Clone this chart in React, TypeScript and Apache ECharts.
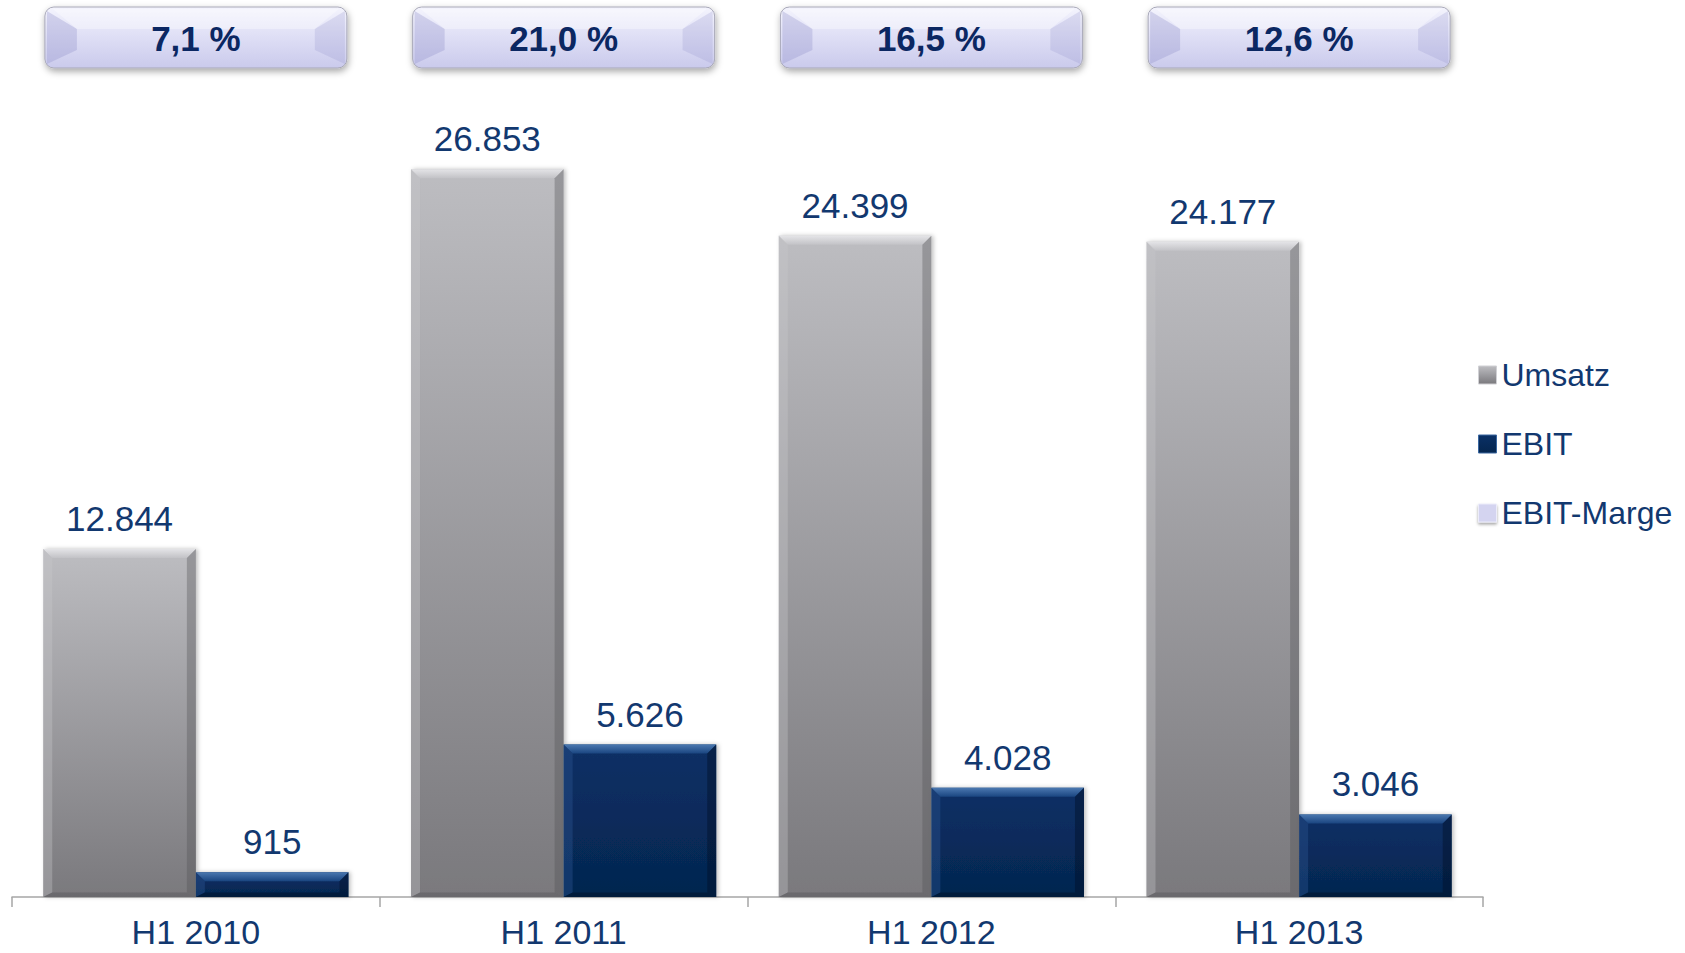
import React, { useEffect, useRef } from "react";
import * as echarts from "echarts";

const categories = ["H1 2010", "H1 2011", "H1 2012", "H1 2013"];
const umsatz = [12844, 26853, 24399, 24177];
const ebit = [915, 5626, 4028, 3046];
const marge = [7.1, 21.0, 16.5, 12.6];
const seriesNames = ["Umsatz", "EBIT", "EBIT-Marge"];

const FONT = "'Liberation Sans', Arial, sans-serif";
const LABEL_COLOR = "#12386f";
const BOX_TEXT = "#0b2762";
const CAT_GAP = 0.17;

const fmtDE = (v: number) => String(v).replace(/\B(?=(\d{3})+(?!\d))/g, ".");
const fmtPct = (v: number) => v.toFixed(1).replace(".", ",") + " %";

const grayGrad = () =>
  new echarts.graphic.LinearGradient(0, 0, 0, 1, [
    { offset: 0, color: "#bdbdc1" },
    { offset: 1, color: "#7a797d" },
  ]);
const navyGrad = () =>
  new echarts.graphic.LinearGradient(0, 0, 0, 1, [
    { offset: 0, color: "#0a3066" },
    { offset: 1, color: "#05264f" },
  ]);

export default function App() {
  const ref = useRef<HTMLDivElement>(null);

  useEffect(() => {
    document.body.style.margin = "0";
    if (!ref.current) return;
    const chart = echarts.init(ref.current, undefined, { renderer: "svg" });

    const bevelData: number[][] = [];
    umsatz.forEach((v, i) => bevelData.push([i, v, 0]));
    ebit.forEach((v, i) => bevelData.push([i, v, 1]));

    const bevelRender = (params: any, api: any) => {
      const idx = api.value(0);
      const val = api.value(1);
      const s = api.value(2);
      const top = api.coord([idx, val]);
      const base = api.coord([idx, 0]);
      const catW = api.size([1, 0])[0];
      const barW = (catW * (1 - CAT_GAP)) / 2;
      const x0 = s === 0 ? top[0] - barW : top[0];
      const x1 = x0 + barW;
      const y0 = top[1];
      const y1 = base[1];
      const h = y1 - y0;
      const b = Math.min(9, h / 2);
      const c =
        s === 0
          ? { top: "#e4e4e7", left: "rgba(200,200,204,0.35)", right: "rgba(80,80,84,0.35)", bottom: "rgba(90,90,94,0.5)" }
          : { top: "#4b78b0", left: "rgba(40,80,140,0.45)", right: "rgba(0,15,40,0.45)", bottom: "rgba(0,15,40,0.5)" };
      return {
        type: "group",
        children: [
          {
            type: "polygon",
            shape: { points: [[x0, y0], [x1, y0], [x1 - b, y0 + b], [x0 + b, y0 + b]] },
            style: {
              fill: new echarts.graphic.LinearGradient(0, 0, 0, 1, [
                { offset: 0, color: c.top },
                { offset: 1, color: s === 0 ? "#c2c2c6" : "#1a4580" },
              ]),
            },
          },
          {
            type: "polygon",
            shape: { points: [[x0, y0], [x0 + b, y0 + b], [x0 + b, y1 - b / 2], [x0, y1]] },
            style: { fill: c.left },
          },
          {
            type: "polygon",
            shape: { points: [[x1, y0], [x1 - b, y0 + b], [x1 - b, y1 - b / 2], [x1, y1]] },
            style: { fill: c.right },
          },
          {
            type: "polygon",
            shape: { points: [[x0, y1], [x0 + b, y1 - b / 2], [x1 - b, y1 - b / 2], [x1, y1]] },
            style: { fill: c.bottom },
          },
        ],
      };
    };

    const boxRender = (params: any, api: any) => {
      const idx = api.value(0);
      const val = api.value(1);
      const cx = api.coord([idx, 0])[0];
      const w = 302;
      const h = 61;
      const x = cx - w / 2;
      const y = params.coordSys.y - 77;
      const f = 32;
      return {
        type: "group",
        children: [
          {
            type: "rect",
            shape: { x, y, width: w, height: h, r: 9 },
            style: {
              fill: new echarts.graphic.LinearGradient(0, 0, 0, 1, [
                { offset: 0, color: "#f4f4fd" },
                { offset: 0.5, color: "#dedef5" },
                { offset: 1, color: "#cacaec" },
              ]),
              stroke: "#a8a8b8",
              lineWidth: 1,
              shadowBlur: 7,
              shadowOffsetY: 3,
              shadowOffsetX: 1,
              shadowColor: "rgba(0,0,0,0.35)",
            },
          },
          {
            type: "polygon",
            shape: { points: [[x + 2, y + 4], [x + f, y + 22], [x + f, y + h - 18], [x + 2, y + h - 4]] },
            style: { fill: "rgba(140,140,200,0.30)" },
          },
          {
            type: "polygon",
            shape: { points: [[x + w - 2, y + 4], [x + w - f, y + 22], [x + w - f, y + h - 18], [x + w - 2, y + h - 4]] },
            style: { fill: "rgba(140,140,200,0.22)" },
          },
          {
            type: "polygon",
            shape: { points: [[x + 8, y + 2], [x + w - 8, y + 2], [x + w - f, y + 22], [x + f, y + 22]] },
            style: { fill: "rgba(255,255,255,0.35)" },
          },
          {
            type: "text",
            style: {
              x: cx,
              y: y + h / 2 + 1,
              text: fmtPct(val),
              fill: BOX_TEXT,
              font: `bold 35px ${FONT}`,
              align: "center",
              verticalAlign: "middle",
            },
          },
        ],
      };
    };

    const valueLabel = {
      show: true,
      position: "top" as const,
      distance: 13,
      fontSize: 35,
      fontFamily: FONT,
      color: LABEL_COLOR,
      formatter: (p: any) => fmtDE(p.value),
    };

    chart.setOption({
      animation: false,
      backgroundColor: "#ffffff",
      textStyle: { fontFamily: FONT },
      grid: { left: 12, right: 202, top: 84, bottom: 56, containLabel: false },
      legend: {
        orient: "vertical",
        left: 1478,
        top: 359,
        itemWidth: 18,
        itemHeight: 18,
        itemGap: 37,
        padding: 0,
        textStyle: { fontSize: 32, color: LABEL_COLOR, fontFamily: FONT, padding: [0, 0, 0, 0] },
        data: [
          { name: seriesNames[0], icon: "rect", itemStyle: { color: grayGrad(), borderColor: "#d0d0d4", borderWidth: 1 } },
          { name: seriesNames[1], icon: "rect", itemStyle: { color: navyGrad(), borderColor: "#3a67a0", borderWidth: 1 } },
          {
            name: seriesNames[2],
            icon: "rect",
            itemStyle: {
              color: "#d4d4f0",
              borderColor: "#ececfa",
              borderWidth: 1,
              shadowBlur: 3,
              shadowOffsetY: 2,
              shadowColor: "rgba(0,0,0,0.35)",
            },
          },
        ],
      },
      xAxis: {
        type: "category",
        data: categories,
        axisLine: { show: true, lineStyle: { color: "#a6a6a6", width: 1.5 } },
        axisTick: { show: true, length: 10, lineStyle: { color: "#a6a6a6", width: 1.5 } },
        axisLabel: { fontSize: 34, lineHeight: 32, color: LABEL_COLOR, fontFamily: FONT, margin: 19 },
      },
      yAxis: {
        type: "value",
        min: 0,
        max: 30000,
        show: false,
        splitLine: { show: false },
      },
      series: [
        {
          name: seriesNames[0],
          type: "bar",
          data: umsatz,
          barGap: "0%",
          barCategoryGap: "17%",
          itemStyle: { color: grayGrad(), shadowBlur: 4, shadowOffsetX: 2, shadowColor: "rgba(0,0,0,0.25)" },
          label: valueLabel,
          z: 2,
        },
        {
          name: seriesNames[1],
          type: "bar",
          data: ebit,
          itemStyle: { color: navyGrad(), shadowBlur: 4, shadowOffsetX: 2, shadowColor: "rgba(0,0,0,0.25)" },
          label: valueLabel,
          z: 2,
        },
        {
          name: "bevel",
          type: "custom",
          data: bevelData,
          encode: { x: 0, y: 1 },
          renderItem: bevelRender,
          silent: true,
          z: 3,
        },
        {
          name: seriesNames[2],
          type: "custom",
          data: marge.map((v, i) => [i, v]),
          encode: { x: 0, y: 1 },
          renderItem: boxRender,
          itemStyle: { color: "#d4d4f0" },
          clip: false,
          z: 4,
        },
      ],
    });

    return () => chart.dispose();
  }, []);

  return <div ref={ref} style={{ width: 1685, height: 953 }} />;
}
